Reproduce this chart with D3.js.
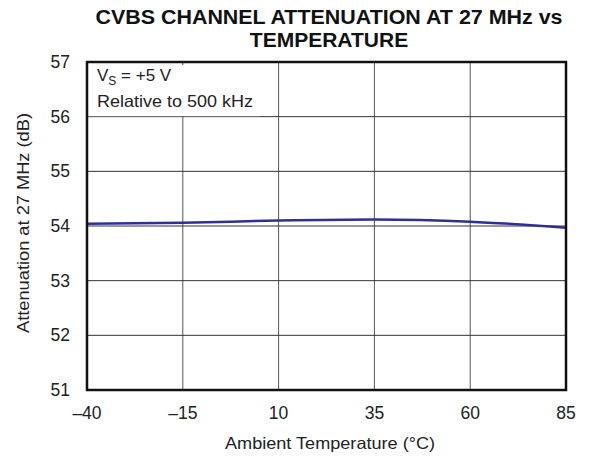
<!DOCTYPE html>
<html><head><meta charset="utf-8">
<script src="https://cdn.jsdelivr.net/npm/d3@7/dist/d3.min.js"></script>
<style>body{margin:0;background:#fff;} text{font-family:"Liberation Sans",Arial,sans-serif;}</style>
</head><body><svg id="c" width="593" height="458"></svg>
<script>
const temps = [-40, -15, 10, 35, 60, 85];
const atten = [54.04, 54.06, 54.10, 54.12, 54.08, 53.97];
const xTicks = [-40, -15, 10, 35, 60, 85];
const yTicks = [51, 52, 53, 54, 55, 56, 57];
const titleLines = ["CVBS CHANNEL ATTENUATION AT 27 MHz vs", "TEMPERATURE"];

const svg = d3.select("#c");
const L = 87, R = 566, T = 62, B = 390;
const x = d3.scaleLinear().domain([-40, 85]).range([L, R]);
const y = d3.scaleLinear().domain([51, 57]).range([B, T]);

// grid
svg.append("g").selectAll("line").data(xTicks.slice(1, -1)).join("line")
  .attr("x1", d => x(d)).attr("x2", d => x(d)).attr("y1", T).attr("y2", B)
  .attr("stroke", "#555").attr("stroke-width", 1);
svg.append("g").selectAll("line").data(yTicks.slice(1, -1)).join("line")
  .attr("x1", L).attr("x2", R).attr("y1", d => y(d)).attr("y2", d => y(d))
  .attr("stroke", "#333").attr("stroke-width", 1);

// annotation box
svg.append("rect").attr("x", L + 1).attr("y", T + 3).attr("width", 172).attr("height", y(56) - T - 3.5).attr("fill", "#fff");
const ann = svg.append("text").attr("x", 97).attr("y", 81).attr("font-size", 17).attr("fill", "#222");
ann.append("tspan").text("V");
ann.append("tspan").attr("font-size", 12).attr("dy", 4).text("S");
ann.append("tspan").attr("dy", -4).text(" = +5 V");
svg.append("text").attr("x", 97).attr("y", 107).attr("font-size", 16.5).attr("fill", "#222")
  .attr("textLength", 156).attr("lengthAdjust", "spacingAndGlyphs").text("Relative to 500 kHz");

// curve
svg.append("path").datum(temps.map((t, i) => [t, atten[i]]))
  .attr("d", d3.line().x(d => x(d[0])).y(d => y(d[1])).curve(d3.curveMonotoneX))
  .attr("fill", "none").attr("stroke", "#2e3192").attr("stroke-width", 2.5);

// frame
svg.append("rect").attr("x", L).attr("y", T).attr("width", R - L).attr("height", B - T)
  .attr("fill", "none").attr("stroke", "#111").attr("stroke-width", 2.5);

// axes labels
svg.append("g").selectAll("text").data(xTicks).join("text")
  .attr("x", d => x(d)).attr("y", 419).attr("text-anchor", "middle").attr("font-size", 17.5).attr("fill", "#222")
  .text(d => d < 0 ? "\u2013" + Math.abs(d) : d);
svg.append("g").selectAll("text").data(yTicks).join("text")
  .attr("x", 70).attr("y", d => y(d) + 6).attr("text-anchor", "end").attr("font-size", 17.5).attr("fill", "#222")
  .text(d => d);

svg.append("text").attr("x", 330).attr("y", 449).attr("text-anchor", "middle").attr("font-size", 16.5).attr("fill", "#222")
  .attr("textLength", 210).attr("lengthAdjust", "spacingAndGlyphs")
  .text("Ambient Temperature (\u00B0C)");
svg.append("text").attr("transform", `translate(29,223) rotate(-90)`).attr("text-anchor", "middle")
  .attr("font-size", 16.5).attr("fill", "#222")
  .attr("textLength", 220).attr("lengthAdjust", "spacingAndGlyphs").text("Attenuation at 27 MHz (dB)");

const title = svg.append("g");
title.append("text").attr("x", 329).attr("y", 24).attr("text-anchor", "middle")
  .attr("font-size", 21).attr("font-weight", "bold").attr("fill", "#111")
  .attr("textLength", 467).attr("lengthAdjust", "spacingAndGlyphs").text(titleLines[0]);
title.append("text").attr("x", 329).attr("y", 47).attr("text-anchor", "middle")
  .attr("font-size", 21).attr("font-weight", "bold").attr("fill", "#111").text(titleLines[1]);
</script></body></html>
